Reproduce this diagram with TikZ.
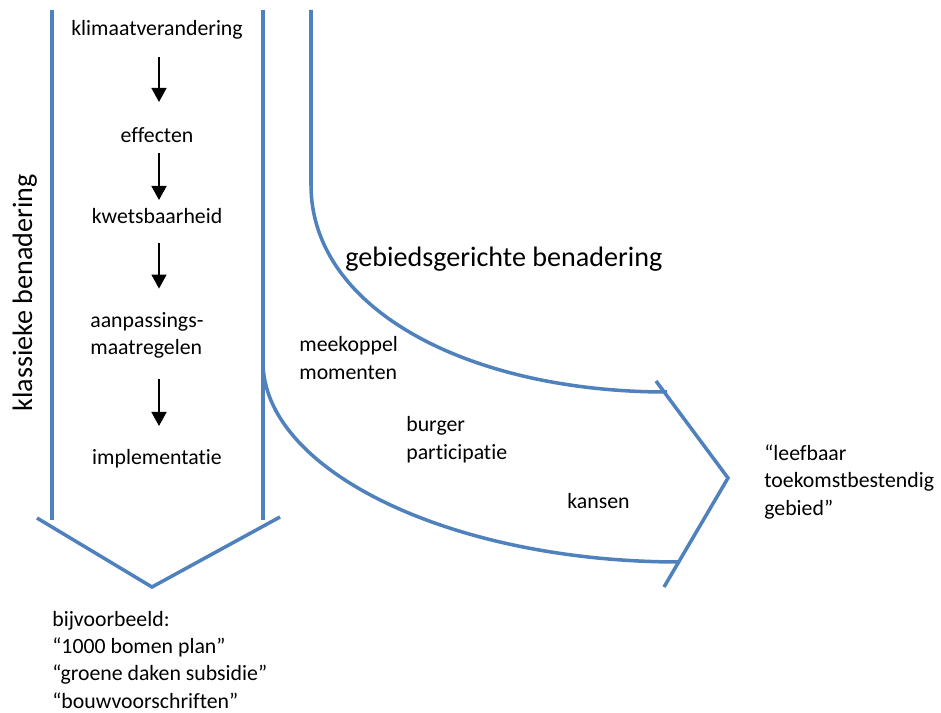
\documentclass[tikz,border=0pt]{standalone}
\usepackage{fontspec}
\setmainfont{Carlito}[Ligatures=NoCommon]
\usetikzlibrary{arrows.meta, calc}
\definecolor{laneBlue}{HTML}{4F81BD}

\begin{document}
\begin{tikzpicture}[x=0.02cm, y=-0.02cm,
    lijn/.style={draw=laneBlue, line width=2pt},
    txt/.style={inner sep=0pt, font=\fontsize{12.4}{15.4}\selectfont, align=left},
    groot/.style={inner sep=0pt, font=\fontsize{16}{19}\selectfont},
    pijl/.style={-{Triangle[width=8.5pt, length=8pt]}, line width=1.1pt},
  ]
    \useasboundingbox (0,0) rectangle (941,713);

    % Klassieke benadering: baan met punt naar beneden
    \draw[lijn] (52,10) -- (52,520);
    \draw[lijn] (263,10) -- (263,520);
    \coordinate (aftak) at (263,362);
    \draw[lijn] (37,518) -- (152,587) -- (280,517);
    \node[groot, rotate=90, anchor=base] (klassiek) at (32,293) {klassieke benadering};

    % Stappen (base van meerregelige nodes = laatste regel)
    \node[txt, anchor=base] (klimaat) at (157,36) {klimaatverandering};
    \node[txt, anchor=base] (effecten) at (157,143) {effecten};
    \node[txt, anchor=base] (kwets) at (157,224) {kwetsbaarheid};
    \node[txt, anchor=base west] (maatregel) at (90,355) {aanpassings-\\maatregelen};
    \node[txt, anchor=base] (implement) at (157,464) {implementatie};

    \draw[pijl] ($(klimaat.base)+(2,21)$) -- ($(effecten.base)+(2,-41)$);
    \draw[pijl] ($(effecten.base)+(2,10)$) -- ($(kwets.base)+(2,-24)$);
    \draw[pijl] ($(kwets.base)+(2,19)$) -- ($(kwets.base |- maatregel.north)+(2,-24)$);
    \draw[pijl] ($(kwets.base |- maatregel.south)+(2,20)$) -- ($(implement.base)+(2,-38)$);

    \node[txt, anchor=base west] (voorbeeld) at (52,708)
      {bijvoorbeeld:\\“1000 bomen plan”\\“groene daken subsidie”\\“bouwvoorschriften”};

    % Gebiedsgerichte benadering: twee banen naar rechts
    \draw[lijn] (311,10) -- (311,185) .. controls (311,310) and (470,392) .. (667,392);
    \draw[lijn] (aftak) .. controls (263,470) and (450,562) .. (680,562);
    \draw[lijn] (656,381) -- (728,478) -- (664,587);
    \node[groot, anchor=base west] (gebied) at (345,267) {gebiedsgerichte benadering};

    \node[txt, anchor=base west] (meekoppel) at (299,379) {meekoppel\\momenten};
    \node[txt, anchor=base west] (burger) at (406,459) {burger\\participatie};
    \node[txt, anchor=base west] (kansen) at (567,508) {kansen};
    \node[txt, anchor=base west] (doel) at (764,515) {“leefbaar\\toekomstbestendig\\gebied”};
  \end{tikzpicture}
\end{document}
